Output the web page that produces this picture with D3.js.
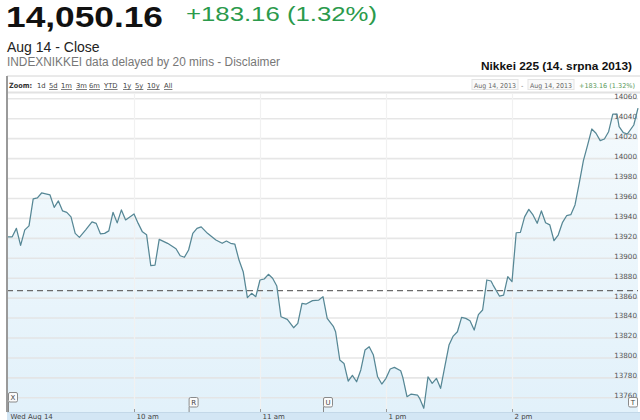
<!DOCTYPE html>
<html><head><meta charset="utf-8">
<script src="https://cdn.jsdelivr.net/npm/d3@7"></script>
<style>
html,body{margin:0;padding:0;background:#fff;}
svg{display:block;}
</style></head>
<body>
<svg id="c" width="640" height="420"></svg>
<script>
// ---- data ----
const times = ["09:00","09:02","09:04","09:06","09:08","09:10","09:12","09:14","09:16","09:18","09:20","09:22","09:24","09:26","09:28","09:30","09:32","09:34","09:37","09:40","09:42","09:44","09:46","09:48","09:50","09:52","09:54","09:56","10:00","10:02","10:04","10:06","10:08","10:10","10:12","10:16","10:20","10:22","10:24","10:26","10:28","10:30","10:32","10:35","10:39","10:42","10:44","10:46","10:48","10:50","10:52","10:54","10:56","10:58","11:00","11:02","11:04","11:06","11:08","11:10","11:13","11:16","11:18","11:20","11:22","11:25","11:28","11:30","12:32","12:35","12:36","12:38","12:40","12:42","12:44","12:46","12:48","12:50","12:52","12:54","12:56","12:58","13:00","13:02","13:04","13:07","13:08","13:10","13:12","13:15","13:16","13:18","13:20","13:22","13:24","13:26","13:28","13:30","13:32","13:34","13:36","13:38","13:40","13:42","13:44","13:46","13:48","13:50","13:51","13:54","13:56","13:58","14:00","14:02","14:04","14:06","14:08","14:10","14:12","14:14","14:16","14:18","14:20","14:22","14:24","14:26","14:28","14:30","14:32","14:34","14:36","14:38","14:40","14:42","14:44","14:46","14:48","14:50","14:51","14:53","14:55","14:58","15:00"];
const values = [13921,13921,13929.5,13912.5,13928,13932,13959,13960,13965,13964,13963,13950.6,13957,13947,13945.6,13941,13924.5,13920.5,13928,13936,13934.5,13924,13924.5,13927,13945.6,13935,13948,13938,13944,13934.5,13926,13923,13892,13892.5,13918.5,13914.5,13909,13902,13900.5,13907.8,13924.5,13929.5,13931,13924.5,13917.8,13914.5,13916.8,13914.5,13913.8,13897.7,13886,13860,13864.3,13861,13877.7,13878.7,13883.4,13879.4,13871.6,13840.8,13838.2,13829.8,13834.2,13854.3,13853.6,13857,13857.6,13861,13839.2,13830.8,13825.8,13797.4,13794,13776.3,13782,13775.6,13787.4,13807.4,13810.7,13802.4,13780.6,13773.3,13779,13788.4,13790,13786.7,13780,13760.6,13763.3,13762.3,13759,13749,13780.6,13774,13779,13769,13790.7,13812.4,13821.4,13825.8,13840.2,13839.2,13836.8,13827.5,13843,13847.6,13877.7,13876.7,13872.6,13861.6,13862.6,13881,13876,13925.1,13925.5,13941,13948.6,13943,13934.6,13947,13935.2,13933,13917.1,13922.8,13935.2,13942.2,13943.2,13953,13974.7,13997.4,14013.1,14029.2,14024.9,14017.5,14019.2,14026.5,14044.2,14044,14031.5,14025.5,14024.2,14033.2,14050.16];
const prevClose = 13867.00;
const yTicks = [13760,13780,13800,13820,13840,13860,13880,13900,13920,13940,13960,13980,14000,14020,14040,14060];
const xTickTimes = ["09:00","10:00","11:00","13:00","14:00"];
const xTickLabels = ["Wed Aug 14","10 am","11 am","1 pm","2 pm"];
const flagLabels = ["X","R","U","T"];
const flagTimes = ["09:00","10:26","12:30","15:00"];
const zoomLabels = ["1d","5d","1m","3m","6m","YTD","1y","5y","10y","All"];

// ---- helpers ----
// trading minutes since 9:00, lunch break 11:30-12:30 removed
function tm(s){ const [h,m]=s.split(":").map(Number); let t=h*60+m-540; if(t>150) t=Math.max(150,t-60); return t; }

const svg = d3.select("#c");
const W=640,H=420;
const L=7,R=638,TOP=93,BOT=412;
const x = d3.scaleLinear().domain([0,300]).range([8,638]);
const y = d3.scaleLinear().domain([13760,14060]).range([397.3,98.3]);
const data = times.map((t,i)=>({t:tm(t),v:values[i]}));

// ---- header texts ----
svg.append("text").attr("x",6).attr("y",27.2).attr("font-family","Liberation Sans, Arial, sans-serif")
  .attr("font-weight","bold").attr("font-size",30).attr("fill","#111")
  .attr("textLength",157).attr("lengthAdjust","spacingAndGlyphs").text("14,050.16");
svg.append("text").attr("x",186).attr("y",21).attr("font-family","Liberation Sans, Arial, sans-serif")
  .attr("font-size",21).attr("fill","#2b9a4c")
  .attr("textLength",191).attr("lengthAdjust","spacingAndGlyphs").text("+183.16 (1.32%)");
svg.append("text").attr("x",7).attr("y",51.5).attr("font-family","Liberation Sans, Arial, sans-serif")
  .attr("font-size",14).attr("fill","#222").text("Aug 14 - Close");
svg.append("text").attr("x",7).attr("y",65.5).attr("font-family","Liberation Sans, Arial, sans-serif")
  .attr("font-size",12.5).attr("fill","#777")
  .attr("textLength",273).attr("lengthAdjust","spacingAndGlyphs").text("INDEXNIKKEI data delayed by 20 mins - Disclaimer");
svg.append("text").attr("x",632).attr("y",69.5).attr("text-anchor","end").attr("font-family","Liberation Sans, Arial, sans-serif")
  .attr("font-weight","bold").attr("font-size",11.5).attr("fill","#111")
  .attr("textLength",151).attr("lengthAdjust","spacingAndGlyphs").text("Nikkei 225 (14. srpna 2013)");

// ---- chart frame ----
const defs = svg.append("defs");
const grad = defs.append("linearGradient").attr("id","fillg").attr("x1",0).attr("y1",0).attr("x2",0).attr("y2",1);
grad.append("stop").attr("offset","0%").attr("stop-color","#f4fafd");
grad.append("stop").attr("offset","100%").attr("stop-color","#e2f1fa");

svg.append("line").attr("x1",L).attr("x2",W).attr("y1",76).attr("y2",76).attr("stroke","#d4d4d4").attr("stroke-width",1);
svg.append("line").attr("x1",L).attr("x2",W).attr("y1",92.5).attr("y2",92.5).attr("stroke","#e2e2e2").attr("stroke-width",2);

// zoom row
const sm = "DejaVu Sans, Verdana, sans-serif";
svg.append("text").attr("x",9).attr("y",88).attr("font-family",sm).attr("font-size",7.3).attr("font-weight","bold").attr("fill","#333")
  .attr("textLength",23).attr("lengthAdjust","spacingAndGlyphs").text("Zoom:");
const zoomX = [37,49,61,76,89,104,123,135,147,164];
zoomLabels.forEach((z,i)=>{
  svg.append("text").attr("x",zoomX[i]).attr("y",88).attr("font-family",sm).attr("font-size",6.8)
    .attr("fill","#444").attr("text-decoration", i===0?"none":"underline").text(z);
});
// date range boxes
[[472,"Aug 14, 2013"],[528,"Aug 14, 2013"]].forEach(([bx,t])=>{
  svg.append("rect").attr("x",bx).attr("y",79.5).attr("width",46).attr("height",10).attr("fill","#fafafa").attr("stroke","#e4e4e4");
  svg.append("text").attr("x",bx+2).attr("y",87.5).attr("font-family",sm).attr("font-size",6.6).attr("fill","#666")
    .attr("textLength",42).attr("lengthAdjust","spacingAndGlyphs").text(t);
});
svg.append("text").attr("x",521).attr("y",87.5).attr("font-family",sm).attr("font-size",6.6).attr("fill","#666").text("-");
svg.append("text").attr("x",635).attr("y",87.5).attr("text-anchor","end").attr("font-family",sm).attr("font-size",6.6)
  .attr("fill","#5b9a5b").attr("textLength",56).attr("lengthAdjust","spacingAndGlyphs").text("+183.16 (1.32%)");

// area
const area = d3.area().x(d=>x(d.t)).y0(BOT).y1(d=>y(d.v));
svg.append("path").datum(data).attr("d",area).attr("fill","url(#fillg)");

// horizontal gridlines
svg.append("g").attr("transform",`translate(${L},0)`)
  .call(d3.axisRight(y).tickValues(yTicks).tickSize(R-L).tickFormat(""))
  .call(g=>{g.select(".domain").remove(); g.selectAll("line").attr("stroke","#e3e3e3").attr("stroke-width",1.6).attr("opacity",0.9);});

// vertical hour gridlines
svg.append("g").attr("transform",`translate(0,${TOP})`)
  .call(d3.axisBottom(x).tickValues(xTickTimes.slice(1).map(tm)).tickSize(BOT-TOP).tickFormat(""))
  .call(g=>{g.select(".domain").remove(); g.selectAll("line").attr("stroke","#f1f1f1").attr("stroke-width",1.2);});

// y labels
svg.append("g").attr("transform",`translate(${R-1},0)`)
  .call(d3.axisLeft(y).tickValues(yTicks).tickSize(0).tickPadding(0).tickFormat(d3.format("d")))
  .call(g=>{g.select(".domain").remove(); g.selectAll("text").attr("font-family",sm).attr("font-size",7.2).attr("fill","#555").attr("dy","0.05em");});

// prev close dashed line
svg.append("line").attr("x1",L).attr("x2",R).attr("y1",y(prevClose)).attr("y2",y(prevClose))
  .attr("stroke","#6b6b6b").attr("stroke-width",1.2).attr("stroke-dasharray","6,4");

// price line
const line = d3.line().x(d=>x(d.t)).y(d=>y(d.v));
svg.append("path").datum(data).attr("d",line).attr("fill","none").attr("stroke","#568795").attr("stroke-width",1.25).attr("stroke-linejoin","round");

// bottom band + x labels
svg.append("rect").attr("x",L).attr("y",BOT).attr("width",W-L).attr("height",H-BOT).attr("fill","#d3e6f4");
svg.append("line").attr("x1",L).attr("x2",W).attr("y1",BOT+0.5).attr("y2",BOT+0.5).attr("stroke","#c3d8e8");
const xa = svg.append("g").attr("transform",`translate(0,${BOT})`)
  .call(d3.axisTop(x).tickValues(xTickTimes.map(tm)).tickSize(3).tickFormat((d,i)=>xTickLabels[i]));
xa.select(".domain").remove();
xa.selectAll("line").attr("stroke","#999");
xa.selectAll("text").attr("font-family",sm).attr("font-size",7).attr("fill","#444")
  .attr("text-anchor","start").attr("y",7).attr("dy",0).attr("x",2);

// left border
svg.append("line").attr("x1",L).attr("x2",L).attr("y1",76).attr("y2",BOT).attr("stroke","#9a9a9a").attr("stroke-width",2);

// flags
flagLabels.forEach((f,i)=>{
  const fx = x(tm(flagTimes[i]));
  const isLast = i===flagLabels.length-1;
  const bx = isLast ? fx-10 : fx;
  const by = i===0 ? 392.5 : 397.5;
  const g = svg.append("g");
  if(!isLast) g.append("line").attr("x1",bx+0.5).attr("x2",bx+0.5).attr("y1",by+9).attr("y2",BOT).attr("stroke","#888");
  g.append("rect").attr("x",bx+0.5).attr("y",by).attr("width",9).attr("height",9.5).attr("rx",1.5)
    .attr("fill","#fbfbfb").attr("stroke","#8a8a8a");
  g.append("text").attr("x",bx+5).attr("y",by+7.6).attr("text-anchor","middle").attr("font-family",sm)
    .attr("font-size",7).attr("fill","#444").text(f);
});
</script>
</body></html>
